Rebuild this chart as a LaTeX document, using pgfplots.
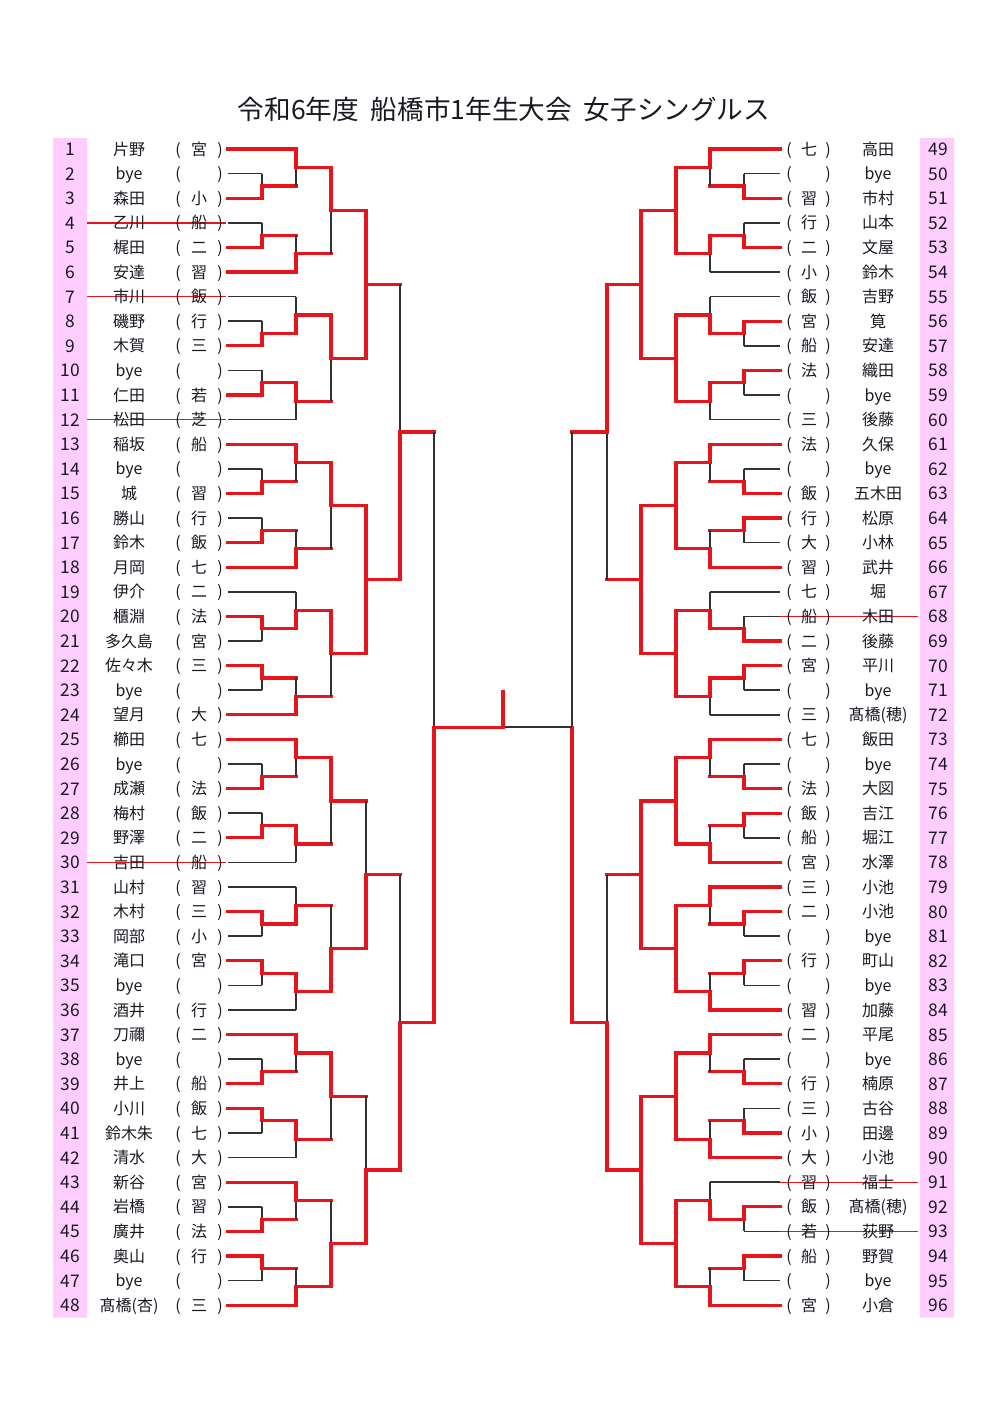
\documentclass[border=0pt]{standalone}
\usepackage{pgfplots}
\pgfplotsset{compat=1.18}
\usepackage{fontspec}
\setmainfont{Noto Sans CJK JP}
\definecolor{rd}{RGB}{232,20,28}
\definecolor{bk}{RGB}{50,50,50}
\definecolor{pk}{RGB}{255,206,255}
\definecolor{tx}{RGB}{25,25,35}
\pgfplotsset{
 rd/.style={color=rd, line width=1.6pt, line cap=rect},
 blk/.style={color=bk, line width=0.75pt},
 strk/.style={color=rd, line width=0.7pt},
}
\newcommand\Seg[5]{\edef\tmp{\noexpand\addplot[#5] coordinates {(#1,#2)(#3,#4)};}\tmp}
% #4: 0 = top wins, 1 = bottom wins, 2 = whole vertical red
\newcommand\Junc[6]{%
 \pgfmathsetmacro\yM{(#2+#3)/2}%
 \Seg{#1}{#2}{#1}{#3}{blk}%
 \ifcase#4 \Seg{#1}{#2}{#1}{\yM}{rd}\or\Seg{#1}{\yM}{#1}{#3}{rd}\or\Seg{#1}{#2}{#1}{#3}{rd}\fi
 \Seg{#1}{\yM}{#5}{\yM}{#6}%
}
\newcommand\Block[6]{%
 \pgfmathsetmacro\rA{#1}\pgfmathsetmacro\rB{#1+1}\pgfmathsetmacro\rC{#1+2}%
 \pgfmathsetmacro\rD{#1+3}\pgfmathsetmacro\rE{#1+4}\pgfmathsetmacro\rF{#1+5}%
 \pgfmathsetmacro\mBC{#1+1.5}\pgfmathsetmacro\mDE{#1+3.5}%
 \pgfmathsetmacro\gA{#1+0.75}\pgfmathsetmacro\gB{#1+4.25}%
 \Seg{\Cs}{\rA}{\Cb}{\rA}{\ifnum#3=0 rd\else blk\fi}%
 \Seg{\Cs}{\rB}{\Ca}{\rB}{\ifnum#2=0 rd\else blk\fi}%
 \Seg{\Cs}{\rC}{\Ca}{\rC}{\ifnum#2=1 rd\else blk\fi}%
 \Seg{\Cs}{\rD}{\Ca}{\rD}{\ifnum#4=0 rd\else blk\fi}%
 \Seg{\Cs}{\rE}{\Ca}{\rE}{\ifnum#4=1 rd\else blk\fi}%
 \Seg{\Cs}{\rF}{\Cb}{\rF}{\ifnum#5=1 rd\else blk\fi}%
 \Junc{\Ca}{\rB}{\rC}{#2}{\Cb}{rd}%
 \Junc{\Cb}{\rA}{\mBC}{#3}{\Cc}{rd}%
 \Junc{\Ca}{\rD}{\rE}{#4}{\Cb}{rd}%
 \Junc{\Cb}{\mDE}{\rF}{#5}{\Cc}{rd}%
 \Junc{\Cc}{\gA}{\gB}{#6}{\Cd}{rd}%
}
\tikzset{
 lbl/.style={font=\fontsize{8}{9}\selectfont, text=tx, anchor=base, yshift=-3pt, inner sep=0pt},
 num/.style={font=\fontsize{8.7}{9}\selectfont, text=tx, anchor=base, yshift=-3.2pt, inner sep=0pt},
}
\newcommand\LRow[3]{%
 \node[num] at (axis cs:70,#1){#1};
 \node[lbl] at (axis cs:129,#1){#2};
 \node[lbl] at (axis cs:178,#1){(};
 \node[lbl] at (axis cs:199,#1){#3};
 \node[lbl] at (axis cs:220,#1){)};
}
\newcommand\RRow[4]{%
 \node[num] at (axis cs:938,#1){#2};
 \node[lbl] at (axis cs:878,#1){#3};
 \node[lbl] at (axis cs:789,#1){(};
 \node[lbl] at (axis cs:809,#1){#4};
 \node[lbl] at (axis cs:828,#1){)};
}
\begin{document}
\begin{tikzpicture}
\begin{axis}[
 width=500pt, height=707pt, scale only axis,
 xmin=0, xmax=1000, ymin=-5.057, ymax=52.423, y dir=reverse,
 axis lines=none, clip=false, no markers,
]
% invisible frame
\addplot[draw=none] coordinates {(0,-5.057)(1000,52.423)};
% pink number boxes
\addplot[fill=pk, draw=none] coordinates {(53,0.55)(87,0.55)(87,48.5)(53,48.5)(53,0.55)};
\addplot[fill=pk, draw=none] coordinates {(920,0.55)(954,0.55)(954,48.5)(920,48.5)(920,0.55)};

% ---------- left side ----------
\def\Cs{228}\def\Ca{262}\def\Cb{296}\def\Cc{331}\def\Cd{366}
\Block{1}{1}{0}{1}{1}{0}
\Block{7}{1}{1}{1}{0}{0}
\Block{13}{1}{0}{1}{1}{0}
\Block{19}{0}{1}{0}{1}{0}
\Block{25}{1}{0}{1}{0}{0}
\Block{31}{0}{1}{0}{0}{1}
\Block{37}{1}{0}{0}{0}{0}
\Block{43}{1}{0}{0}{1}{1}
\Junc{366}{3.5}{9.5}{2}{400}{rd}
\Junc{366}{15.5}{21.5}{2}{400}{rd}
\Junc{366}{27.5}{33.5}{1}{400}{rd}
\Junc{366}{39.5}{45.5}{1}{400}{rd}
\Junc{400}{6.5}{18.5}{1}{434}{rd}
\Junc{400}{30.5}{42.5}{1}{434}{rd}
\Junc{434}{12.5}{36.5}{1}{503}{rd}

% ---------- right side ----------
\def\Cs{780}\def\Ca{744}\def\Cb{710}\def\Cc{676}\def\Cd{641}
\Block{1}{1}{0}{1}{0}{2}
\Block{7}{0}{1}{0}{0}{2}
\Block{13}{1}{0}{0}{1}{2}
\Block{19}{1}{1}{0}{0}{2}
\Block{25}{1}{0}{0}{1}{2}
\Block{31}{0}{0}{0}{1}{2}
\Block{37}{1}{0}{1}{1}{2}
\Block{43}{0}{1}{0}{1}{2}
\Junc{641}{3.5}{9.5}{2}{607}{rd}
\Junc{641}{15.5}{21.5}{2}{607}{rd}
\Junc{641}{27.5}{33.5}{2}{607}{rd}
\Junc{641}{39.5}{45.5}{2}{607}{rd}
\Junc{607}{6.5}{18.5}{0}{572}{rd}
\Junc{607}{30.5}{42.5}{1}{572}{rd}
\Junc{572}{12.5}{36.5}{1}{503}{blk}
% final
\Seg{434}{24.5}{503}{24.5}{rd}
\Seg{503}{24.5}{503}{23.07}{rd}

% strike lines
\addplot[strk] coordinates {(87,4)(226,4)};
\addplot[strk] coordinates {(87,7)(226,7)};
\addplot[strk] coordinates {(87,12)(226,12)};
\addplot[strk] coordinates {(87,30)(226,30)};
\addplot[strk] coordinates {(780,20)(918,20)};
\addplot[strk] coordinates {(780,43)(918,43)};
\addplot[strk] coordinates {(780,45)(918,45)};

% title
\node[font=\fontsize{13.3}{15}\selectfont, text=tx, anchor=base, yshift=-5pt, inner sep=0pt] at (axis cs:504,-0.6) {令和6年度\hspace{0.45em}船橋市1年生大会\hspace{0.45em}女子シングルス};

% left names
\LRow{1}{片野}{宮}
\LRow{2}{bye}{}
\LRow{3}{森田}{小}
\LRow{4}{乙川}{船}
\LRow{5}{梶田}{二}
\LRow{6}{安達}{習}
\LRow{7}{市川}{飯}
\LRow{8}{磯野}{行}
\LRow{9}{木賀}{三}
\LRow{10}{bye}{}
\LRow{11}{仁田}{若}
\LRow{12}{松田}{芝}
\LRow{13}{稲坂}{船}
\LRow{14}{bye}{}
\LRow{15}{城}{習}
\LRow{16}{勝山}{行}
\LRow{17}{鈴木}{飯}
\LRow{18}{月岡}{七}
\LRow{19}{伊介}{二}
\LRow{20}{櫃淵}{法}
\LRow{21}{多久島}{宮}
\LRow{22}{佐々木}{三}
\LRow{23}{bye}{}
\LRow{24}{望月}{大}
\LRow{25}{櫛田}{七}
\LRow{26}{bye}{}
\LRow{27}{成瀬}{法}
\LRow{28}{梅村}{飯}
\LRow{29}{野澤}{二}
\LRow{30}{吉田}{船}
\LRow{31}{山村}{習}
\LRow{32}{木村}{三}
\LRow{33}{岡部}{小}
\LRow{34}{滝口}{宮}
\LRow{35}{bye}{}
\LRow{36}{酒井}{行}
\LRow{37}{刀禰}{二}
\LRow{38}{bye}{}
\LRow{39}{井上}{船}
\LRow{40}{小川}{飯}
\LRow{41}{鈴木朱}{七}
\LRow{42}{清水}{大}
\LRow{43}{新谷}{宮}
\LRow{44}{岩橋}{習}
\LRow{45}{廣井}{法}
\LRow{46}{奥山}{行}
\LRow{47}{bye}{}
\LRow{48}{髙橋(杏)}{三}
% right names
\RRow{1}{49}{高田}{七}
\RRow{2}{50}{bye}{}
\RRow{3}{51}{市村}{習}
\RRow{4}{52}{山本}{行}
\RRow{5}{53}{文屋}{二}
\RRow{6}{54}{鈴木}{小}
\RRow{7}{55}{吉野}{飯}
\RRow{8}{56}{筧}{宮}
\RRow{9}{57}{安達}{船}
\RRow{10}{58}{織田}{法}
\RRow{11}{59}{bye}{}
\RRow{12}{60}{後藤}{三}
\RRow{13}{61}{久保}{法}
\RRow{14}{62}{bye}{}
\RRow{15}{63}{五木田}{飯}
\RRow{16}{64}{松原}{行}
\RRow{17}{65}{小林}{大}
\RRow{18}{66}{武井}{習}
\RRow{19}{67}{堀}{七}
\RRow{20}{68}{木田}{船}
\RRow{21}{69}{後藤}{二}
\RRow{22}{70}{平川}{宮}
\RRow{23}{71}{bye}{}
\RRow{24}{72}{髙橋(穂)}{三}
\RRow{25}{73}{飯田}{七}
\RRow{26}{74}{bye}{}
\RRow{27}{75}{大図}{法}
\RRow{28}{76}{吉江}{飯}
\RRow{29}{77}{堀江}{船}
\RRow{30}{78}{水澤}{宮}
\RRow{31}{79}{小池}{三}
\RRow{32}{80}{小池}{二}
\RRow{33}{81}{bye}{}
\RRow{34}{82}{町山}{行}
\RRow{35}{83}{bye}{}
\RRow{36}{84}{加藤}{習}
\RRow{37}{85}{平尾}{二}
\RRow{38}{86}{bye}{}
\RRow{39}{87}{楠原}{行}
\RRow{40}{88}{古谷}{三}
\RRow{41}{89}{田邊}{小}
\RRow{42}{90}{小池}{大}
\RRow{43}{91}{福士}{習}
\RRow{44}{92}{髙橋(穂)}{飯}
\RRow{45}{93}{荻野}{若}
\RRow{46}{94}{野賀}{船}
\RRow{47}{95}{bye}{}
\RRow{48}{96}{小倉}{宮}
\end{axis}
\end{tikzpicture}
\end{document}
